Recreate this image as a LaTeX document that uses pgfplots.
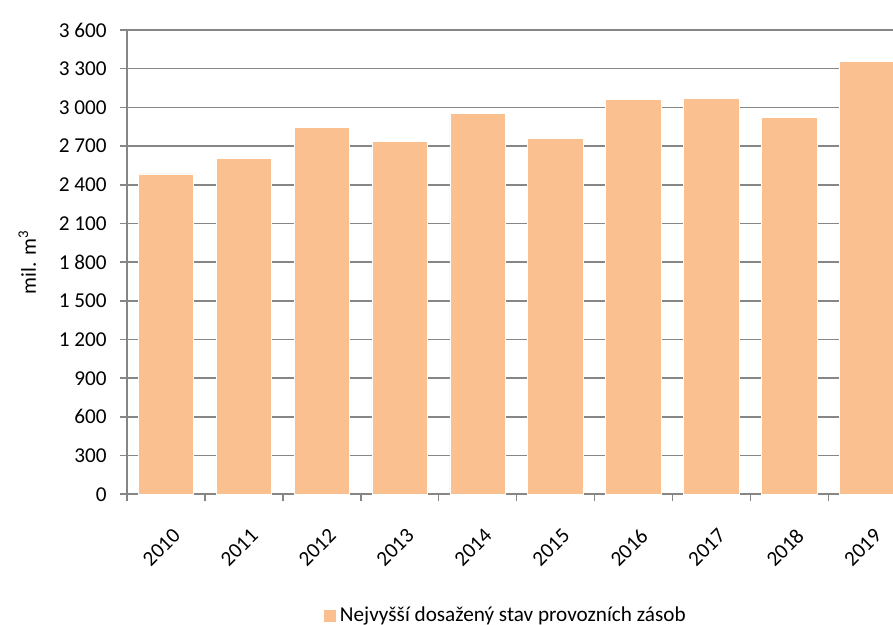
\documentclass[border=0pt]{standalone}
\usepackage{pgfplots}
\pgfplotsset{compat=1.18}
\usepackage{fontspec}
\setmainfont{Carlito}
\definecolor{barc}{RGB}{250,192,144}
\definecolor{gridc}{RGB}{134,134,134}
\begin{document}
\fontsize{10.6bp}{12.7bp}\selectfont
\begin{tikzpicture}
\begin{axis}[
  at={(63.5bp,65.35bp)}, anchor=south west,
  scale only axis,
  width=389.6bp, height=232.15bp,
  xmin=-0.5, xmax=9.5, ymin=0, ymax=3600,
  ybar, bar width=27.8bp, bar shift=0pt,
  axis lines*=left,
  axis line style={gridc, line width=0.8bp},
  xtick={0,...,9},
  xticklabels={2010,2011,2012,2013,2014,2015,2016,2017,2018,2019},
  minor xtick={-0.5,0.5,...,9.5},
  major x tick style={draw=none},
  minor x tick style={gridc, line width=0.8bp},
  minor tick length=3.5bp,
  ytick={0,300,...,3600},
  major tick length=3.5bp,
  tick align=outside,
  y tick style={gridc, line width=0.8bp},
  ymajorgrids,
  grid style={gridc, line width=0.8bp},
  /pgf/number format/assume math mode=true,
  /pgf/number format/1000 sep={\ },
  /pgf/number format/min exponent for 1000 sep=0,
  ticklabel style={font=\fontsize{10.6bp}{12.7bp}\selectfont, text=black},
  xticklabel style={rotate=45, anchor=north east, inner sep=1bp, yshift=-10bp, xshift=-6bp},
  yticklabel style={xshift=-3bp},
  ylabel={mil. m\textsuperscript{3}},
  ylabel style={at={(axis description cs:-0.128,0.5)}, anchor=center, font=\fontsize{10.6bp}{12.7bp}\selectfont},
  legend style={at={(axis description cs:0.4877,-0.262)}, anchor=center, draw=none,
    font=\fontsize{10.6bp}{12.7bp}\selectfont, inner sep=0pt},
  legend image code/.code={\fill[barc] (0bp,-2.75bp) rectangle (5.5bp,2.75bp);},
  clip=false,
]
\addplot[fill=barc, draw=white, line width=0.3bp] coordinates {
(0,2485) (1,2602) (2,2847) (3,2736) (4,2951) (5,2757) (6,3060) (7,3067) (8,2920) (9,3357)
};
\addlegendentry{Nejvyšší dosažený stav provozních zásob}
\end{axis}
\pgfresetboundingbox
\useasboundingbox (0,0) rectangle (446.5bp,312.5bp);
\end{tikzpicture}
\end{document}
